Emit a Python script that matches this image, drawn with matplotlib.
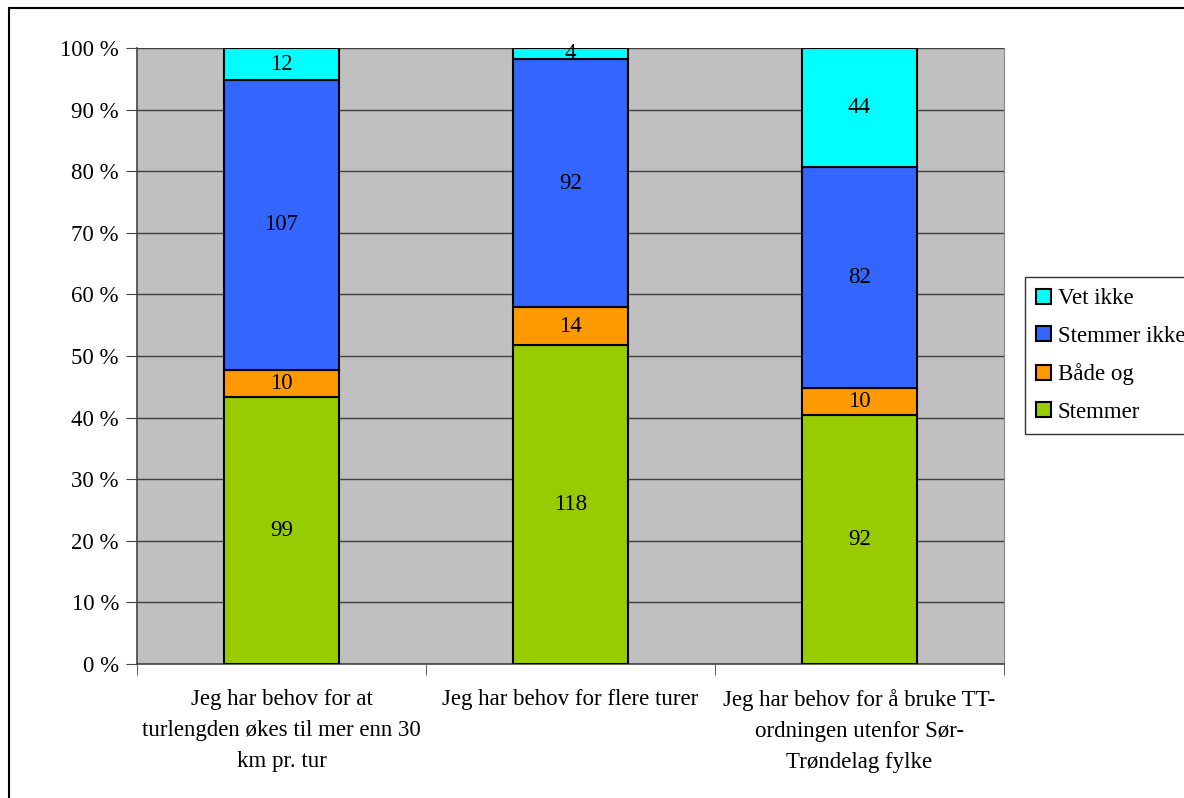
import numpy as np
import matplotlib
matplotlib.use("Agg")
import matplotlib.pyplot as plt
from matplotlib.patches import Rectangle

plt.rcParams['font.family'] = ['Liberation Serif', 'DejaVu Serif']

categories = [
    "Jeg har behov for at\nturlengden økes til mer enn 30\nkm pr. tur",
    "Jeg har behov for flere turer",
    "Jeg har behov for å bruke TT-\nordningen utenfor Sør-\nTrøndelag fylke",
]
series_names = ["Stemmer", "Både og", "Stemmer ikke", "Vet ikke"]
stemmer = [99, 118, 92]
baade_og = [10, 14, 10]
stemmer_ikke = [107, 92, 82]
vet_ikke = [12, 4, 44]
colors = ["#99CC00", "#FF9900", "#3366FF", "#00FFFF"]
yticks = [0, 10, 20, 30, 40, 50, 60, 70, 80, 90, 100]

FS = 16.5
W, H = 1184, 798
fig = plt.figure(figsize=(W / 100, H / 100), dpi=100)
ax = fig.add_axes([137 / W, 1 - 664 / H, (1004 - 137) / W, (664 - 48) / H])
ax.set_facecolor("#C0C0C0")

counts = np.array([stemmer, baade_og, stemmer_ikke, vet_ikke], dtype=float)
totals = counts.sum(axis=0)
pct = counts / totals * 100
x = np.arange(len(categories))

bottom = np.zeros(len(categories))
handles = []
for i, name in enumerate(series_names):
    bars = ax.bar(x, pct[i], 0.4, bottom=bottom, color=colors[i],
                  edgecolor="black", linewidth=1.5, label=name, zorder=3)
    handles.append(bars)
    for j in range(len(categories)):
        ax.text(x[j], bottom[j] + pct[i][j] / 2, f"{int(counts[i][j])}",
                ha="center", va="center", fontsize=FS, zorder=4)
    bottom += pct[i]

ax.set_xlim(-0.5, len(categories) - 0.5)
ax.set_ylim(0, 100)
ax.set_yticks(yticks)
ax.set_yticklabels([f"{t} %" for t in yticks], fontsize=FS)
ax.yaxis.grid(True, color="#404040", linewidth=1, zorder=1)
ax.set_axisbelow(True)

ax.set_xticks(x)
ax.set_xticklabels(categories, fontsize=FS, linespacing=1.62, va="top")
ax.tick_params(axis="x", length=0, pad=18)
ax.set_xticks(np.arange(-0.5, len(categories)), minor=True)
ax.tick_params(axis="x", which="minor", length=8, direction="out", color="#444444")
ax.tick_params(axis="y", length=8, direction="out", color="#444444", pad=5)

ax.spines["top"].set_visible(False)
for side in ["left", "bottom"]:
    ax.spines[side].set_color("#444444")
    ax.spines[side].set_linewidth(1.2)
ax.spines["right"].set_color("#888888")

leg = fig.legend(handles[::-1], series_names[::-1], loc="upper left",
                 bbox_to_anchor=(1025 / W, 1 - 277 / H), fontsize=FS,
                 frameon=True, fancybox=False, edgecolor="black",
                 handlelength=0.62, handleheight=0.62, handletextpad=0.3,
                 labelspacing=0.72, borderpad=0.5, borderaxespad=0)
leg.get_frame().set_linewidth(1.0)

# outer chart frame
fig.patches.append(Rectangle((9 / W, -0.05), 1.1, 1.05 - 8 / H,
                             transform=fig.transFigure, fill=False,
                             edgecolor="black", linewidth=1.5))

fig.savefig("out.png", dpi=100)
